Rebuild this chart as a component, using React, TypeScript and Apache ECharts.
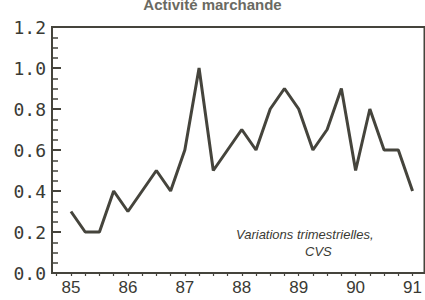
import React, { useEffect, useRef } from "react";
import * as echarts from "echarts";

const quarters = [
  "85T1","85T2","85T3","85T4",
  "86T1","86T2","86T3","86T4",
  "87T1","87T2","87T3","87T4",
  "88T1","88T2","88T3","88T4",
  "89T1","89T2","89T3","89T4",
  "90T1","90T2","90T3","90T4",
  "91T1",
];
const values = [
  0.3, 0.2, 0.2, 0.4,
  0.3, 0.4, 0.5, 0.4,
  0.6, 1.0, 0.5, 0.6,
  0.7, 0.6, 0.8, 0.9,
  0.8, 0.6, 0.7, 0.9,
  0.5, 0.8, 0.6, 0.6,
  0.4,
];
const yearLabels = ["85", "86", "87", "88", "89", "90", "91"];
const yTicks = [0, 0.2, 0.4, 0.6, 0.8, 1.0, 1.2];

const INK = "#45443c";

export default function App() {
  const ref = useRef<HTMLDivElement>(null);
  useEffect(() => {
    document.body.style.margin = "0";
    const chart = echarts.init(ref.current!, null, { renderer: "svg" });
    const data = values.map((v, i) => [i, v]);
    const tickVals = quarters.map((_, i) => i);
    tickVals.unshift(-1);
    const labelVals = yearLabels.map((_, i) => i * 4);
    chart.setOption({
      animation: false,
      backgroundColor: "#ffffff",
      title: {
        text: "Activité marchande",
        left: "center",
        top: -8,
        textStyle: { fontFamily: "Liberation Sans", fontSize: 15, fontWeight: "bold", color: "#6a6a62" },
      },
      grid: {
        left: 52,
        top: 27,
        right: -6,
        bottom: 27,
        show: true,
        borderColor: INK,
        borderWidth: 2,
        backgroundColor: "transparent",
      },
      xAxis: {
        type: "value",
        min: -1.333,
        max: 24.84,
        splitLine: { show: false },
        axisLine: { show: true, onZero: false, lineStyle: { color: INK, width: 2 } },
        axisTick: { show: true, inside: false, length: 3, customValues: tickVals, lineStyle: { color: INK, width: 1.2 } },
        axisLabel: {
          customValues: labelVals,
          formatter: (v: number) => yearLabels[Math.round(v / 4)] ?? "",
          fontFamily: "Liberation Sans",
          fontSize: 17,
          color: "#3a3a34",
          margin: 6,
        },
      },
      yAxis: {
        type: "value",
        min: 0,
        max: 1.2,
        interval: 0.2,
        splitLine: { show: false },
        axisLine: { show: true, onZero: false, lineStyle: { color: INK, width: 2 } },
        axisTick: { show: true, inside: true, length: 9, lineStyle: { color: INK, width: 2 } },
        minorTick: { show: true, splitNumber: 4, length: 6, lineStyle: { color: INK, width: 1.5 } },
        axisLabel: {
          formatter: (v: number) => (yTicks.some((t) => Math.abs(t - v) < 1e-6) ? v.toFixed(1) : ""),
          fontFamily: "DejaVu Sans Mono",
          fontSize: 18,
          color: "#3a3a34",
          margin: 6,
        },
      },
      graphic: [
        {
          type: "text",
          left: 236,
          top: 228,
          style: {
            text: "Variations trimestrielles,",
            font: "italic 13px 'Liberation Sans'",
            fill: "#3a3a34",
          },
        },
        {
          type: "text",
          left: 305,
          top: 245,
          style: {
            text: "CVS",
            font: "italic 13px 'Liberation Sans'",
            fill: "#3a3a34",
          },
        },
      ],
      series: [
        {
          type: "line",
          data,
          symbol: "none",
          lineStyle: { color: INK, width: 3 },
          clip: false,
        },
      ],
    });
    return () => chart.dispose();
  }, []);
  return <div ref={ref} style={{ width: 425, height: 300 }} />;
}
